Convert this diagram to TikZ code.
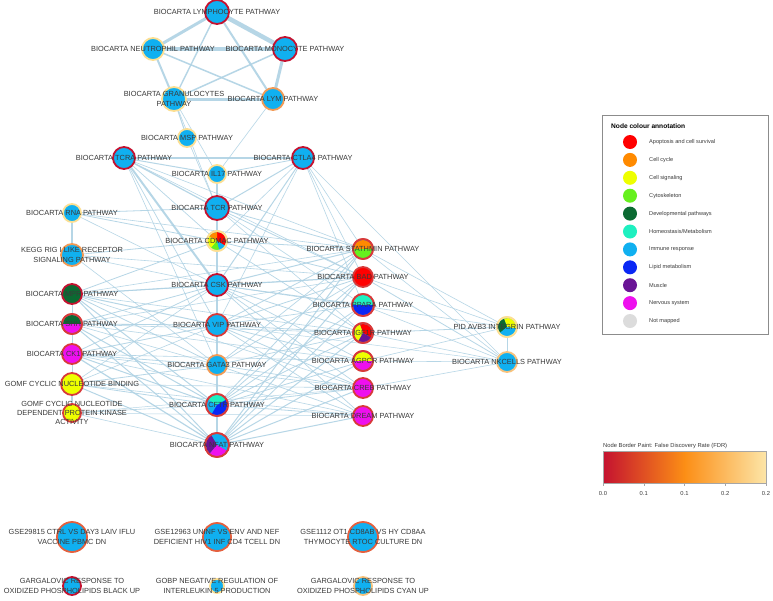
\documentclass[tikz,border=0pt]{standalone}
\usepackage{fontspec}
\setmainfont{Liberation Sans}
\definecolor{apop}{HTML}{FF0000}
\definecolor{cellcycle}{HTML}{FF8A00}
\definecolor{signal}{HTML}{EEFF00}
\definecolor{cyto}{HTML}{66F01E}
\definecolor{dev}{HTML}{0B6A32}
\definecolor{homeo}{HTML}{1EF0C0}
\definecolor{immune}{HTML}{10B0F0}
\definecolor{lipid}{HTML}{0A28F5}
\definecolor{muscle}{HTML}{6A1496}
\definecolor{nervous}{HTML}{EE10EE}
\definecolor{notmapped}{HTML}{DCDCDC}
\definecolor{fdrA}{HTML}{C41230}
\definecolor{fdrB}{HTML}{D83A3A}
\definecolor{fdrC}{HTML}{E4603E}
\definecolor{fdrD}{HTML}{F29A55}
\definecolor{fdrE}{HTML}{F8C27C}
\definecolor{fdrF}{HTML}{FCDF92}
\definecolor{edgecol}{HTML}{AFD2E4}
\definecolor{txt}{HTML}{3A3A3A}
\pgfdeclarelayer{bg}
\pgfdeclarelayer{fg}
\pgfsetlayers{bg,main,fg}
\newcommand\pieslice[5]{\fill[#5] (#1.center) -- ++(#3:#2pt) arc[start angle=#3, end angle=#4, radius=#2pt] -- cycle;}
\newcommand\ringdraw[3]{\draw[line width=1.8pt, draw=#3] (#1.center) circle[radius=#2pt];}
\begin{document}
\begin{tikzpicture}[x=1pt,y=-1pt,
  nd/.style={circle, inner sep=0pt, outer sep=0pt, line width=1.8pt, fill=immune},
  lbl/.style={inner sep=0pt, align=center, text=txt, font=\fontsize{7.4}{9.4}\selectfont},
  edge/.style={draw=edgecol, opacity=0.9},
  legtxt/.style={inner sep=0pt, anchor=west, text=txt, font=\fontsize{5.6}{6.6}\selectfont},
  legdot/.style={circle, inner sep=0pt, minimum size=14pt},
  ticklbl/.style={inner sep=0pt, text=txt, font=\fontsize{5.8}{6.8}\selectfont}]
\useasboundingbox (0,0) rectangle (773,600);
\begin{pgfonlayer}{bg}
\fill[white] (0,0) rectangle (773,600);
\end{pgfonlayer}
% nodes
\node[nd, minimum size=24pt, draw=fdrA] (lymph) at (217,12) {};
\node[nd, minimum size=22pt, draw=fdrF] (neut) at (153,49) {};
\node[nd, minimum size=24pt, draw=fdrA] (mono) at (285,49) {};
\node[nd, minimum size=24pt, draw=fdrF] (gran) at (174,99) {};
\node[nd, minimum size=22pt, draw=fdrD] (lym) at (273,99) {};
\node[nd, minimum size=18pt, draw=fdrF] (msp) at (187,138) {};
\node[nd, minimum size=22pt, draw=fdrA] (tcra) at (124,158) {};
\node[nd, minimum size=22pt, draw=fdrA] (ctla) at (303,158) {};
\node[nd, minimum size=18pt, draw=fdrF] (ilx) at (217,174) {};
\node[nd, minimum size=24pt, draw=fdrA] (tcr) at (217,208) {};
\node[nd, minimum size=20pt, draw=fdrF] (cdmac) at (217,241) {};
\node[nd, minimum size=22pt, draw=fdrA] (csk) at (217,285) {};
\node[nd, minimum size=22pt, draw=fdrB] (vip) at (217,325) {};
\node[nd, minimum size=20pt, draw=fdrD] (gata) at (217,365) {};
\node[nd, minimum size=22pt, draw=fdrB] (cftr) at (217,405) {};
\node[nd, minimum size=24pt, draw=fdrB] (nfat) at (217,445) {};
\node[nd, minimum size=18pt, draw=fdrF] (rna) at (72,213) {};
\node[nd, minimum size=22pt, draw=fdrD] (kegg) at (72,255) {};
\node[nd, minimum size=20pt, draw=fdrA, fill=dev] (mpr) at (72,294) {};
\node[nd, minimum size=20pt, draw=fdrB] (shh) at (72,324) {};
\node[nd, minimum size=20pt, draw=fdrB, fill=nervous] (ckone) at (72,354) {};
\node[nd, minimum size=22pt, draw=fdrB, fill=signal] (gomfa) at (72,384) {};
\node[nd, minimum size=18pt, draw=fdrB, fill=signal] (gomfb) at (72,413) {};
\node[nd, minimum size=20pt, draw=fdrB] (stath) at (363,249) {};
\node[nd, minimum size=20pt, draw=fdrB, fill=apop] (bad) at (363,277) {};
\node[nd, minimum size=22pt, draw=fdrB] (ppara) at (363,305) {};
\node[nd, minimum size=20pt, draw=fdrB] (igf) at (363,333) {};
\node[nd, minimum size=20pt, draw=fdrB] (agpcr) at (363,361) {};
\node[nd, minimum size=20pt, draw=fdrB, fill=nervous] (creb) at (363,388) {};
\node[nd, minimum size=20pt, draw=fdrB, fill=nervous] (dream) at (363,416) {};
\node[nd, minimum size=20pt, draw=fdrF] (pid) at (507,327) {};
\node[nd, minimum size=20pt, draw=fdrE] (nk) at (507,362) {};
\node[nd, minimum size=30pt, draw=fdrC] (gsea) at (72,537) {};
\node[nd, minimum size=28pt, draw=fdrC] (gseb) at (217,537) {};
\node[nd, minimum size=30pt, draw=fdrC] (gsec) at (363,537) {};
\node[nd, minimum size=18pt, draw=fdrA] (garga) at (72,586) {};
\node[nd, minimum size=14pt, draw=fdrF] (gobp) at (217,586) {};
\node[nd, minimum size=18pt, draw=fdrE] (gargb) at (363,586) {};
% pies (visual angles)
\pieslice{cdmac}{9}{-30}{90}{apop}\pieslice{cdmac}{9}{90}{150}{cellcycle}\pieslice{cdmac}{9}{150}{230}{signal}\pieslice{cdmac}{9}{230}{285}{cyto}\pieslice{cdmac}{9}{285}{330}{immune}\ringdraw{cdmac}{10}{fdrF}
\pieslice{shh}{9}{0}{180}{dev}\pieslice{shh}{9}{180}{360}{nervous}\ringdraw{shh}{10}{fdrB}
\pieslice{stath}{9}{0}{180}{cellcycle}\pieslice{stath}{9}{180}{360}{cyto}\ringdraw{stath}{10}{fdrB}
\pieslice{ppara}{10}{0}{180}{homeo}\pieslice{ppara}{10}{180}{360}{lipid}\ringdraw{ppara}{11}{fdrB}
\pieslice{igf}{9}{-30}{110}{apop}\pieslice{igf}{9}{110}{240}{signal}\pieslice{igf}{9}{240}{330}{muscle}\ringdraw{igf}{10}{fdrB}
\pieslice{agpcr}{9}{0}{180}{signal}\pieslice{agpcr}{9}{180}{360}{nervous}\ringdraw{agpcr}{10}{fdrB}
\pieslice{cftr}{10}{30}{150}{homeo}\pieslice{cftr}{10}{150}{240}{immune}\pieslice{cftr}{10}{240}{390}{lipid}\ringdraw{cftr}{11}{fdrB}
\pieslice{nfat}{11}{-30}{120}{immune}\pieslice{nfat}{11}{120}{230}{muscle}\pieslice{nfat}{11}{230}{330}{nervous}\ringdraw{nfat}{12}{fdrB}
\pieslice{pid}{9}{-10}{110}{signal}\pieslice{pid}{9}{110}{220}{dev}\pieslice{pid}{9}{220}{350}{immune}\ringdraw{pid}{10}{fdrF}
% edges
\begin{pgfonlayer}{bg}
\foreach \a/\b/\w in {lymph/neut/3, lymph/mono/4.5, lymph/gran/1.4, lymph/lym/2, neut/mono/3.5, neut/gran/2, neut/lym/1.5, mono/gran/1.5, mono/lym/3, gran/lym/3,
 gran/msp/1, gran/ilx/0.6, gran/tcr/0.6, lym/ilx/0.6, msp/tcr/0.6,
 tcra/ctla/2, tcra/ilx/1, tcra/tcr/1.2, tcra/cdmac/0.7, tcra/csk/2, tcra/vip/0.7, tcra/stath/0.6, tcra/bad/0.6, tcra/gata/0.6,
 ctla/ilx/0.8, ctla/tcr/1, ctla/csk/1, ctla/cdmac/0.6, ctla/stath/0.6, ctla/bad/0.6, ctla/nk/0.6, ctla/ppara/0.6, ctla/vip/0.6,
 ilx/tcr/1.5, tcr/cdmac/1.5, cdmac/csk/1.5, csk/vip/1.5, vip/gata/1.5, gata/cftr/1.5, cftr/nfat/1.5,
 tcr/stath/0.8, tcr/bad/0.8, tcr/ppara/0.6, tcr/igf/0.6,
 rna/kegg/1.5, rna/tcr/0.8, rna/cdmac/0.8, rna/csk/0.6, rna/stath/0.6,
 kegg/cdmac/0.8, kegg/csk/0.6, kegg/gata/0.6, kegg/bad/0.6,
 mpr/csk/1, mpr/vip/1, mpr/gata/0.8, mpr/cftr/1, mpr/nfat/1, mpr/cdmac/0.8, mpr/stath/0.6, mpr/bad/0.6, mpr/igf/0.6, mpr/creb/0.6, mpr/shh/1,
 shh/csk/0.8, shh/vip/0.8, shh/gata/0.6, shh/cftr/1, shh/nfat/1, shh/bad/0.6, shh/igf/0.6, shh/agpcr/0.6, shh/ckone/1,
 ckone/csk/0.8, ckone/vip/0.8, ckone/gata/0.8, ckone/cftr/1, ckone/nfat/1.2, ckone/creb/0.6, ckone/dream/0.6, ckone/agpcr/0.6, ckone/gomfa/1,
 gomfa/vip/0.6, gomfa/gata/0.8, gomfa/cftr/0.8, gomfa/nfat/1, gomfa/creb/0.6, gomfa/dream/0.6, gomfa/csk/0.6, gomfa/gomfb/1.2,
 gomfb/nfat/0.6, gomfb/cftr/0.6, gomfb/creb/0.5, gomfb/dream/0.5,
 csk/stath/1, csk/bad/1, csk/ppara/0.8, csk/igf/0.8, csk/agpcr/0.7, csk/creb/0.7, csk/dream/0.7,
 vip/stath/0.8, vip/bad/0.8, vip/ppara/0.7, vip/igf/0.8, vip/agpcr/0.8, vip/creb/0.8, vip/dream/0.7,
 gata/stath/0.7, gata/bad/0.7, gata/igf/0.7, gata/creb/0.7, gata/dream/0.7,
 cftr/stath/0.8, cftr/bad/0.8, cftr/ppara/0.8, cftr/igf/0.8, cftr/agpcr/0.8, cftr/creb/0.8, cftr/dream/0.8,
 nfat/stath/1, nfat/bad/1, nfat/ppara/0.8, nfat/igf/1, nfat/agpcr/1, nfat/creb/1, nfat/dream/1,
 cdmac/stath/0.8, cdmac/bad/0.8, cdmac/igf/0.7,
 stath/pid/0.6, bad/pid/0.6, igf/pid/0.8, agpcr/pid/0.6, stath/nk/0.6, bad/nk/0.8, igf/nk/0.6, agpcr/nk/0.6, creb/nk/0.6, ppara/nk/0.6, pid/nk/1, csk/pid/0.6, vip/nk/0.5}
 {\draw[edge, line width=\w pt] (\a) -- (\b);}
\end{pgfonlayer}
% labels
\begin{pgfonlayer}{fg}
\node[lbl] (lymphL) at (lymph.center) {BIOCARTA LYMPHOCYTE PATHWAY};
\node[lbl] (neutL) at (neut.center) {BIOCARTA NEUTROPHIL PATHWAY};
\node[lbl] (monoL) at (mono.center) {BIOCARTA MONOCYTE PATHWAY};
\node[lbl] (granL) at (gran.center) {BIOCARTA GRANULOCYTES\\PATHWAY};
\node[lbl] (lymL) at (lym.center) {BIOCARTA LYM PATHWAY};
\node[lbl] (mspL) at (msp.center) {BIOCARTA MSP PATHWAY};
\node[lbl] (tcraL) at (tcra.center) {BIOCARTA TCRA PATHWAY};
\node[lbl] (ctlaL) at (ctla.center) {BIOCARTA CTLA4 PATHWAY};
\node[lbl] (ilxL) at (ilx.center) {BIOCARTA IL17 PATHWAY};
\node[lbl] (tcrL) at (tcr.center) {BIOCARTA TCR PATHWAY};
\node[lbl] (cdmacL) at (cdmac.center) {BIOCARTA CDMAC PATHWAY};
\node[lbl] (cskL) at (csk.center) {BIOCARTA CSK PATHWAY};
\node[lbl] (vipL) at (vip.center) {BIOCARTA VIP PATHWAY};
\node[lbl] (gataL) at (gata.center) {BIOCARTA GATA3 PATHWAY};
\node[lbl] (cftrL) at (cftr.center) {BIOCARTA CFTR PATHWAY};
\node[lbl] (nfatL) at (nfat.center) {BIOCARTA NFAT PATHWAY};
\node[lbl] (rnaL) at (rna.center) {BIOCARTA RNA PATHWAY};
\node[lbl] (keggL) at (kegg.center) {KEGG RIG I LIKE RECEPTOR\\SIGNALING PATHWAY};
\node[lbl] (mprL) at (mpr.center) {BIOCARTA MPR PATHWAY};
\node[lbl] (shhL) at (shh.center) {BIOCARTA SHH PATHWAY};
\node[lbl] (ckoneL) at (ckone.center) {BIOCARTA CK1 PATHWAY};
\node[lbl] (gomfaL) at (gomfa.center) {GOMF CYCLIC NUCLEOTIDE BINDING};
\node[lbl] (gomfbL) at (gomfb.center) {GOMF CYCLIC NUCLEOTIDE\\DEPENDENT PROTEIN KINASE\\ACTIVITY};
\node[lbl] (stathL) at (stath.center) {BIOCARTA STATHMIN PATHWAY};
\node[lbl] (badL) at (bad.center) {BIOCARTA BAD PATHWAY};
\node[lbl] (pparaL) at (ppara.center) {BIOCARTA PPARA PATHWAY};
\node[lbl] (igfL) at (igf.center) {BIOCARTA IGF1R PATHWAY};
\node[lbl] (agpcrL) at (agpcr.center) {BIOCARTA AGPCR PATHWAY};
\node[lbl] (crebL) at (creb.center) {BIOCARTA CREB PATHWAY};
\node[lbl] (dreamL) at (dream.center) {BIOCARTA DREAM PATHWAY};
\node[lbl] (pidL) at (pid.center) {PID AVB3 INTEGRIN PATHWAY};
\node[lbl] (nkL) at (nk.center) {BIOCARTA NKCELLS PATHWAY};
\node[lbl] (gseaL) at (gsea.center) {GSE29815 CTRL VS DAY3 LAIV IFLU\\VACCINE PBMC DN};
\node[lbl] (gsebL) at (gseb.center) {GSE12963 UNINF VS ENV AND NEF\\DEFICIENT HIV1 INF CD4 TCELL DN};
\node[lbl] (gsecL) at (gsec.center) {GSE1112 OT1 CD8AB VS HY CD8AA\\THYMOCYTE RTOC CULTURE DN};
\node[lbl] (gargaL) at (garga.center) {GARGALOVIC RESPONSE TO\\OXIDIZED PHOSPHOLIPIDS BLACK UP};
\node[lbl] (gobpL) at (gobp.center) {GOBP NEGATIVE REGULATION OF\\INTERLEUKIN 5 PRODUCTION};
\node[lbl] (gargbL) at (gargb.center) {GARGALOVIC RESPONSE TO\\OXIDIZED PHOSPHOLIPIDS CYAN UP};
\end{pgfonlayer}
% legend
\draw[draw=gray!90, line width=0.8pt] (602,115) rectangle (768,334);
\node[inner sep=0pt, anchor=west, text=black, font=\bfseries\fontsize{6.6}{7.6}\selectfont] (legT) at (611,126) {Node colour annotation};
\foreach \c/\t [count=\i from 0] in {apop/Apoptosis and cell survival, cellcycle/Cell cycle, signal/Cell signaling, cyto/Cytoskeleton, dev/Developmental pathways, homeo/Homeostasis\slash Metabolism, immune/Immune response, lipid/Lipid metabolism, muscle/Muscle, nervous/Nervous system, notmapped/Not mapped}
 {\node[legdot, fill=\c] (leg\i) at (630,{142+17.9*\i}) {};
  \node[legtxt] (legL\i) at (649,{142+17.9*\i}) {\t};}
% colour bar
\node[inner sep=0pt, anchor=west, text=txt, font=\fontsize{5.8}{6.8}\selectfont] (barT) at (603,446) {Node Border Paint: False Discovery Rate (FDR)};
\shade[left color=fdrA, right color=fdrF!80!white, middle color=cellcycle!75!fdrD] (603,451) rectangle (766,483);
\draw[gray!70, line width=0.5pt] (603,451) rectangle (766,483);
\foreach \xx/\tt [count=\j] in {603/0.0, 643.75/0.1, 684.5/0.1, 725.25/0.2, 766/0.2}
 {\draw[gray!70, line width=0.5pt] (\xx,483) -- (\xx,486);
  \node[ticklbl] (tick\j) at (\xx,493) {\tt};}
\end{tikzpicture}
\end{document}
